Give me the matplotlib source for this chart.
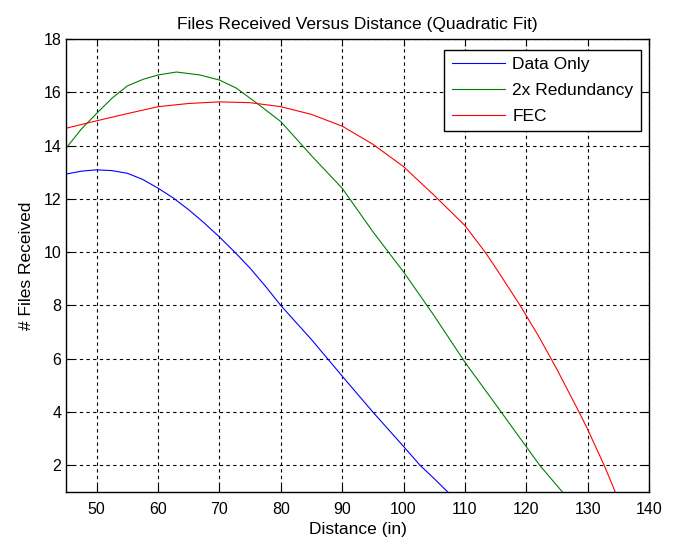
import numpy as np
import matplotlib
matplotlib.use('Agg')
import matplotlib.pyplot as plt

###############################################################################
plt.rcParams['font.family'] = ['Liberation Sans', 'DejaVu Sans']
plt.rcParams['font.size'] = 11

TITLE = 'Files Received Versus Distance (Quadratic Fit)'
XLABEL = 'Distance (in)'
YLABEL = '# Files Received'
LABELS = ['Data Only', '2x Redundancy', 'FEC']
###############################################################################
# values
dist_data = [45, 47.5, 50, 52.5, 55, 57.5, 60, 62.5, 65, 67.5, 70, 72.5, 75,
             77.5, 80, 85, 90, 95, 100, 102.7, 105, 107.2]
files_data = [12.93, 13.04, 13.09, 13.06, 12.96, 12.73, 12.40, 12.03, 11.59,
              11.10, 10.57, 10.00, 9.40, 8.72, 8.00, 6.72, 5.35, 4.00, 2.71,
              2.00, 1.50, 1.00]

dist_red2 = [45, 47.5, 50, 52.5, 55, 57.6, 60, 63, 66.8, 70, 72.8, 76.1, 80,
             85, 90, 95, 100, 105, 110, 115, 120, 122.2, 125, 125.9]
files_red2 = [13.90, 14.62, 15.21, 15.78, 16.24, 16.49, 16.65, 16.76, 16.65,
              16.46, 16.15, 15.59, 14.90, 13.62, 12.40, 10.77, 9.26, 7.61,
              5.87, 4.29, 2.70, 2.00, 1.24, 1.00]

dist_fec = [45, 50, 55, 60, 65, 70, 75, 80, 85, 90, 95, 100, 105, 110, 113.3,
            115, 119, 122, 125, 128.6, 130, 132.7, 134.5]
files_fec = [14.65, 14.93, 15.20, 15.46, 15.58, 15.64, 15.61, 15.46, 15.17,
             14.73, 14.05, 13.21, 12.13, 11.00, 10.00, 9.42, 8.00, 6.85,
             5.60, 4.00, 3.35, 2.00, 1.00]

xticks = [50, 60, 70, 80, 90, 100, 110, 120, 130, 140]
yticks = [2, 4, 6, 8, 10, 12, 14, 16, 18]
###############################################################################
fig = plt.figure(figsize=(6.75, 5.4), dpi=100)
ax = fig.add_axes([0.0978, 0.0889, 0.8637, 0.8389])

ax.plot(dist_data, files_data, color=(0, 0, 1), linewidth=0.8, label=LABELS[0])
ax.plot(dist_red2, files_red2, color=(0, 0.5, 0), linewidth=0.8, label=LABELS[1])
ax.plot(dist_fec, files_fec, color=(1, 0, 0), linewidth=0.8, label=LABELS[2])

ax.set_xlim(45, 140)
ax.set_ylim(1, 18)
ax.set_xticks(xticks)
ax.set_yticks(yticks)

ax.grid(True, color='black', linestyle=(0, (3, 3)), linewidth=0.8)
ax.tick_params(direction='in', length=5, top=True, right=True, width=0.8,
               labelsize=11.5)
ax.tick_params(axis='x', pad=7)
for sp in ax.spines.values():
    sp.set_linewidth(1.0)

ax.set_title(TITLE, fontsize=12.5, pad=7)
ax.set_xlabel(XLABEL, fontsize=12.5, labelpad=4)
ax.set_ylabel(YLABEL, fontsize=12.5, labelpad=7)

leg = ax.legend(loc='upper right', bbox_to_anchor=(0.986, 0.976), fancybox=False,
                edgecolor='black', framealpha=1, borderaxespad=0,
                handlelength=3.1, handletextpad=0.4, labelspacing=0.62,
                borderpad=0.42, fontsize=12.5)
leg.get_frame().set_linewidth(1.0)

plt.savefig('out.png', dpi=100)
